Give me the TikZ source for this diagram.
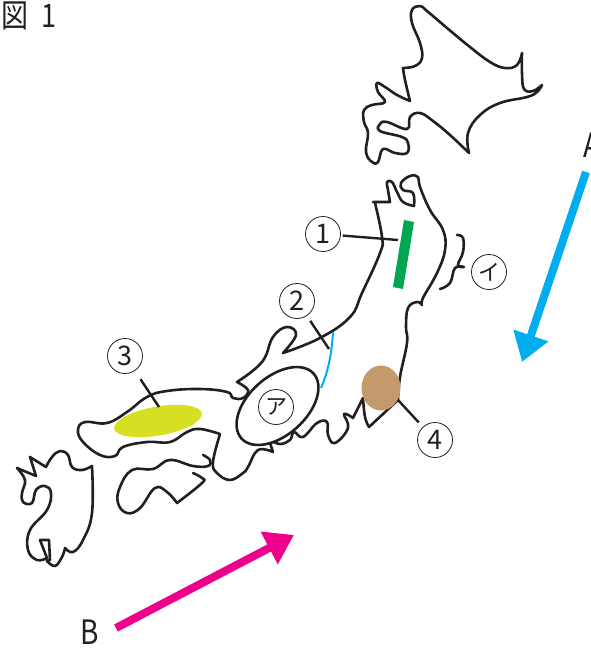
\documentclass[tikz,border=0pt]{standalone}
\usepackage{fontspec}
\setmainfont{Noto Sans CJK JP}
\usetikzlibrary{shapes.geometric,arrows.meta}
\definecolor{cgreen}{HTML}{00A651}
\definecolor{cyel}{HTML}{D7DF23}
\definecolor{cbrown}{HTML}{C49A6C}
\definecolor{ccyan}{HTML}{00AEEF}
\definecolor{cmag}{HTML}{EC008C}
\definecolor{cink}{HTML}{231F20}
\tikzset{
 coast/.style={draw=cink,line width=2.6pt,line join=round,line cap=round},
 leader/.style={draw=cink,line width=2.4pt},
 num/.style={circle,draw=cink,line width=0.8pt,minimum size=35pt,inner sep=0pt,font=\fontsize{27}{27}\selectfont,text=cink},
 kana/.style={num,font=\fontsize{22}{22}\selectfont},
 lab/.style={font=\fontsize{28}{28}\selectfont,text=cink,inner sep=0pt,yscale=1.2},
 bigarrow/.style={line width=8pt,-{Triangle[length=28pt,width=35pt]}},
 sm/.style={smooth,tension=0.7}
}
\begin{document}
\begin{tikzpicture}[x=1pt,y=-1pt]
\useasboundingbox (0,0) rectangle (591,651);
% Hokkaido
\draw[coast] plot[sm] coordinates {(469,153)(468,133)(480,115)(500,103)(527,97)(537,92)(542,85)}
 -- plot[sm] coordinates {(542,85)(533,91)(524,89)(522,73)(522,53)}
 -- plot[sm] coordinates {(522,53)(517,65)(505,68)(490,62)(470,47)(447,28)(427,11)(420,6)(412,10)(412,23)(420,43)(422,58)(415,66)(403,68)}
 -- plot[sm] coordinates {(403,68)(405,80)(410,101)}
 -- plot[sm] coordinates {(410,101)(397,95)(385,87)(377,83)(378,92)(385,102)(372,105)(364,110)(364,122)(368,133)(366,152)(372,162)(378,162)(383,149)(395,153)(407,153)(408,143)(402,137)(380,131)(380,124)(387,122)(407,129)(410,117)(420,113)(433,121)(450,135)(469,153)};
% Honshu
\draw[coast] (373,202) -- (390,202)
 -- plot[sm] coordinates {(390,202)(388,190)(387,182)(392,182)(397,192)(403,202)(414,206)}
 -- plot[sm] coordinates {(414,206)(413,193)(403,190)(401,183)(410,176)(418,177)(420,187)(430,210)(443,230)(445,250)(437,273)(423,298)(422,305)}
 -- plot[sm] coordinates {(422,305)(417,302)(408,308)(406,327)(407,343)(400,377)(398,400)}
 -- (369,427)
 -- plot[sm] coordinates {(369,427)(365,417)(363,398)}
 -- plot[sm] coordinates {(363,398)(353,418)}
 -- plot[sm] coordinates {(353,418)(344,414)(348,428)(335,443)(328,435)(327,422)(317,423)(303,437)(294,432)(290,440)(280,444)(270,440)}
 -- plot[sm] coordinates {(270,443)(273,452)}
 -- plot[sm] coordinates {(273,452)(258,450)(248,467)(243,473)(230,480)(217,473)(213,462)(220,434)}
 -- plot[sm] coordinates {(220,434)(200,429)(187,432)(170,442)(147,442)(123,447)(115,456)(100,455)(83,442)(78,430)(85,422)(107,423)(127,412)(147,397)(167,391)(200,389)(227,392)(233,398)(243,398)(248,390)(237,382)}
 -- plot[sm] coordinates {(237,382)(262,362)(273,337)(287,327)(296,335)(283,353)}
 -- plot[sm] coordinates {(283,353)(320,338)(350,317)(362,293)(380,253)(382,237)(375,203)};
% Shikoku
\draw[coast] plot[sm] coordinates {(203,455)(210,460)(208,466)(193,466)(170,460)(153,469)(132,470)(120,487)(118,503)(127,513)(140,508)(155,488)(167,492)(177,503)}
 -- plot[sm] coordinates {(177,503)(202,483)(202,478)(193,473)};
% Kyushu
\draw[coast] plot[sm] coordinates {(92,466)(82,470)(72,467)(68,455)(60,451)(52,457)(46,467)}
 -- (30,457) -- (36,476) -- (17,468)
 -- plot[sm] coordinates {(17,468)(25,480)(22,493)(23,502)(32,503)(36,490)(45,486)(51,493)(47,510)(30,530)(28,550)(37,560)(47,558)}
 -- (40,540) -- (49,540) -- (50,560) -- (47,561)
 -- plot[sm] coordinates {(47,561)(55,566)(62,557)(65,548)}
 -- plot[sm] coordinates {(65,548)(73,552)(83,540)(92,513)(92,466)};
% Ellipse A
\node[ellipse,draw=cink,fill=white,line width=2.6pt,minimum width=97pt,minimum height=58pt,inner sep=0pt,rotate=42] (ea) at (277.5,406) {};
% coloured areas
\node[ellipse,fill=cyel,minimum width=89pt,minimum height=29pt,inner sep=0pt,rotate=10] (ey) at (158,421) {};
\node[ellipse,fill=cbrown,minimum width=39pt,minimum height=45pt,inner sep=0pt] (eb) at (381,388) {};
\fill[cgreen] (404,220) -- (414,222) -- (403,289) -- (393,287) -- cycle;
\coordinate (cy1) at (333,332);
\coordinate (cy2) at (321,388);
\draw[ccyan,line width=2pt] (cy1) .. controls (332,350) and (329,370) .. (cy2);
% labels
\node[num] (n1) at (323,234) {1};
\node[num] (n2) at (297,301) {2};
\node[num] (n3) at (125,356) {3};
\node[num] (n4) at (435,440) {4};
\node[kana] (na) at (276,407) {ア};
\node[kana] (ni) at (489,272) {イ};
\coordinate (l1) at (398,240);
\coordinate (l2) at (329,349);
\coordinate (l3) at (159,407);
\coordinate (l4) at (398,400);
\draw[leader,shorten <=2pt] (n1) -- (l1);
\draw[leader,shorten <=6pt] (n2) -- (l2);
\draw[leader,shorten <=10pt] (n3) -- (l3);
\draw[leader,shorten <=6pt] (n4) -- (l4);
% brace
\draw[coast] plot[sm] coordinates {(457,235)(463,238)(463,252)(458,265)(464,267)}
 (464,267) -- plot[sm] coordinates {(464,267)(455,268)(450,283)(440,289)};
% arrows
\coordinate (a1) at (586,172);
\coordinate (a2) at (522,362);
\coordinate (b1) at (116,628);
\coordinate (b2) at (294,535);
\draw[ccyan,bigarrow] (a1) -- (a2);
\draw[cmag,bigarrow] (b1) -- (b2);
\node[lab] (ta) at (592,145) {A};
\node[lab] (tb) at (90,632) {B};
\node[lab,anchor=west,yscale=1,font=\fontsize{27}{27}\selectfont] (tt) at (1,15.5) {図\hspace{13pt}1};
\end{tikzpicture}
\end{document}
